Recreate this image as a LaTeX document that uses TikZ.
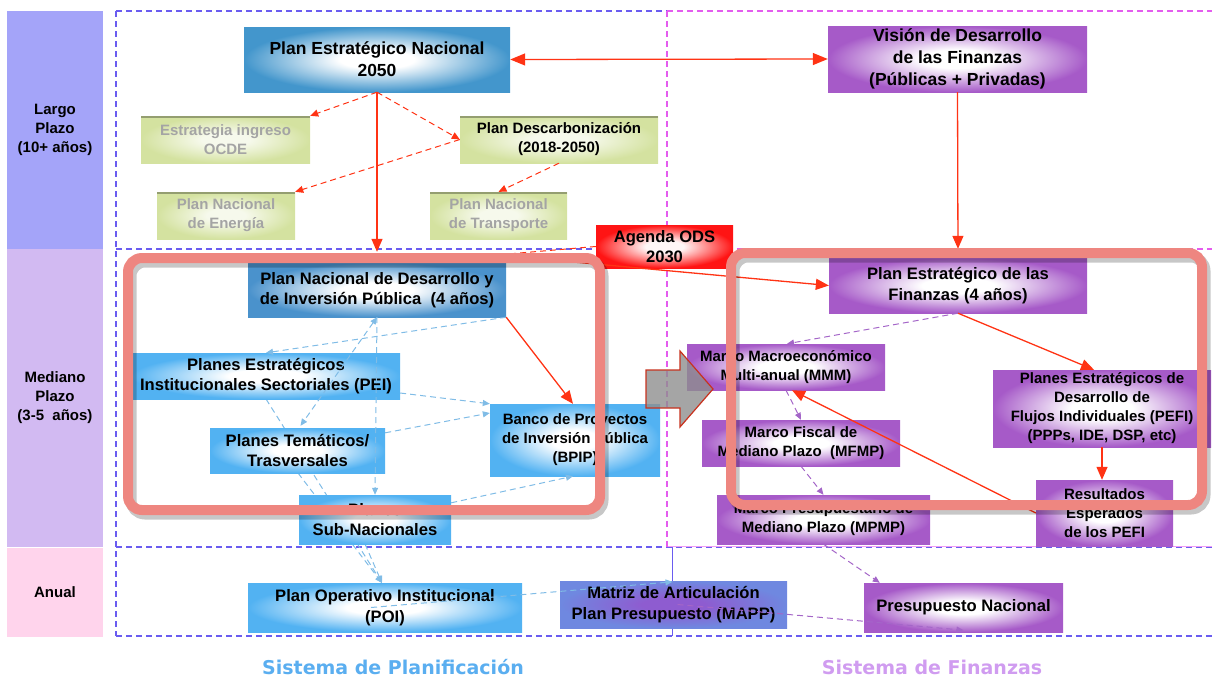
\documentclass[tikz,border=0pt]{standalone}
\usepackage{fontspec}
\setmainfont{Liberation Sans}
\newfontfamily\sysfont{DejaVu Sans}
\usetikzlibrary{arrows.meta,calc}

\definecolor{largoc}{HTML}{A4A4F9}
\definecolor{medianoc}{HTML}{D2BAF2}
\definecolor{anualc}{HTML}{FFD4EC}
\definecolor{gridblue}{HTML}{6A5CF0}
\definecolor{gridpink}{HTML}{E45CEE}
\definecolor{penblue}{HTML}{4396CC}
\definecolor{pndblue}{HTML}{4A92CC}
\definecolor{lightblue}{HTML}{52B2F2}
\definecolor{purplec}{HTML}{A65AC8}
\definecolor{greenc}{HTML}{D4E2A0}
\definecolor{greentext}{HTML}{A4A4A4}
\definecolor{odsred}{HTML}{FF1414}
\definecolor{mappin}{HTML}{8E5CD0}
\definecolor{mappout}{HTML}{6F88E0}
\definecolor{arrred}{HTML}{FF3314}
\definecolor{dashblue}{HTML}{80BCE6}
\definecolor{dashpurple}{HTML}{A466C8}
\definecolor{framered}{HTML}{EE8680}
\definecolor{blockgray}{HTML}{8E8E8E}
\definecolor{blockedge}{HTML}{C8321E}
\definecolor{sysblue}{HTML}{5AAEF0}
\definecolor{syspurple}{HTML}{D09CF0}

% soft radial fill: pale core, saturated rim
\colorlet{shin}{white}
\colorlet{shout}{black}
\pgfdeclareradialshading[shin,shout]{softrad}{\pgfpoint{0bp}{0bp}}{%
  color(0bp)=(shin); color(7bp)=(shin); color(25bp)=(shout); color(50bp)=(shout)}

\newcommand\fsA{\fontsize{17.5}{22}\selectfont}
\newcommand\fsB{\fontsize{16.6}{20.5}\selectfont}
\newcommand\fsC{\fontsize{15}{19}\selectfont}

\tikzset{
  softfill/.style 2 args={/utils/exec={\colorlet{shin}{#1}\colorlet{shout}{#2}}, shading=softrad},
  cbox/.style={inner sep=0pt, align=center, font=\fsB\bfseries, text=black},
  penbox/.style={cbox, font=\fsA\bfseries, softfill={white}{penblue}},
  pndbox/.style={cbox, softfill={white}{pndblue}},
  lbbox/.style={cbox, softfill={white}{lightblue}},
  purbox/.style={cbox, softfill={white}{purplec}},
  grbox/.style={cbox, font=\fsC\bfseries, text=greentext,
    softfill={greenc!20}{greenc},
    path picture={\draw[line width=3pt, draw=black!30!greenc]
      (path picture bounding box.north west) -- (path picture bounding box.north east);}},
  odsbox/.style={cbox, softfill={odsred!4}{odsred}},
  mappbox/.style={cbox, softfill={mappin}{mappout}},
  lvlbox/.style={inner sep=0pt, align=center, font=\fsC\bfseries, minimum width=96pt},
  gridline/.style={draw=gridblue, line width=1.1pt, dash pattern=on 6pt off 4pt},
  gridpinkline/.style={draw=gridpink, line width=1.1pt, dash pattern=on 6pt off 4pt},
  redarr/.style={draw=arrred, line width=1.3pt, -{Triangle[length=13pt,width=11pt]}},
  reddash/.style={draw=arrred, line width=1pt, dash pattern=on 6pt off 4pt,
    -{Triangle[length=8pt,width=7pt]}},
  bdash/.style={draw=dashblue, line width=1pt, dash pattern=on 6pt off 4pt,
    -{Triangle[length=7pt,width=6pt]}},
  pdash/.style={draw=dashpurple, line width=1pt, dash pattern=on 6pt off 4pt,
    -{Triangle[length=7pt,width=6pt]}},
  frameline/.style={draw=framered, line width=10pt, rounded corners=14pt},
  frameshadow/.style={draw=black, draw opacity=0.22, line width=11pt, rounded corners=14pt},
}

\begin{document}
\begin{tikzpicture}[x=1pt,y=-1pt]
\useasboundingbox (0,0) rectangle (1212,678);

% time horizon column
\node[lvlbox, fill=largoc, minimum height=238pt] (largo) at (55,130) {Largo\\Plazo\\(10+ años)};
\node[lvlbox, fill=medianoc, minimum height=298pt] (mediano) at (55,398) {Mediano\\Plazo\\(3-5\ \ años)};
\node[lvlbox, fill=anualc, minimum height=89pt] (anual) at (55,592) {Anual};

% dashed grid of the two systems
\draw[gridline] (116,11) -- (667,11);
\draw[gridpinkline] (667,11) -- (1212,11);
\draw[gridline] (116,249) -- (667,249);
\draw[gridpinkline] (667,249) -- (1212,249);
\draw[gridline] (116,547) -- (1212,547);
\draw[draw=gridpink!60, line width=0.6pt] (667,546) -- (1212,546);
\draw[gridline] (116,636) -- (1212,636);
\draw[gridline] (116,11) -- (116,636);
\draw[gridpinkline] (667,11) -- (667,547);
\draw[draw=gridblue, line width=1pt] (672,547) -- (672,636);

% planning nodes
\node[penbox, minimum width=266pt, minimum height=65pt] (PEN) at (377,59.5) {Plan Estratégico Nacional\\2050};
\node[grbox, minimum width=169pt, minimum height=47pt] (OCDE) at (225.5,139.5) {Estrategia ingreso\\OCDE};
\node[grbox, text=black, minimum width=198pt, minimum height=47pt] (DESC) at (559,139.5) {Plan Descarbonización\\(2018-2050)};
\node[grbox, minimum width=138pt, minimum height=47pt] (ENER) at (226,215.5) {Plan Nacional\\de Energía};
\node[grbox, minimum width=137pt, minimum height=47pt] (TRANS) at (498.5,215.5) {Plan Nacional\\de Transporte};

% feeders into the POI run behind the boxes
\coordinate (POItop) at (382,583);
\draw[bdash] (266,399) -- (POItop);
\draw[bdash] (298,473) -- (POItop);
\draw[bdash] (365,544) -- (POItop);

\node[pndbox, minimum width=258pt, minimum height=54pt] (PND) at (377,290) {Plan Nacional de Desarrollo y\\de Inversión Pública\ \ (4 años)};
\node[lbbox, minimum width=268pt, minimum height=46pt] (PEI) at (266,376) {Planes Estratégicos\\Institucionales Sectoriales (PEI)};
\node[lbbox, minimum width=175pt, minimum height=45pt] (TEM) at (297.5,450.5) {Planes Temáticos/\\Trasversales};
\node[lbbox, font=\fsC\bfseries, minimum width=170pt, minimum height=72pt] (BPIP) at (575,440) {Banco de Proyectos\\de Inversión Pública\\(BPIP)};
\node[lbbox, minimum width=152pt, minimum height=49pt, text depth=0pt] (SUB) at (375,519.5) {Planes\\Sub-Nacionales};
\node[lbbox, minimum width=274pt, minimum height=49pt] (POI) at (385,607.5) {Plan Operativo Institucional\\(POI)};
\node[mappbox, minimum width=227pt, minimum height=47pt] (MAPP) at (673.5,604.5) {Matriz de Articulación\\Plan Presupuesto (MAPP)};

% finance nodes
\node[purbox, font=\fsA\bfseries, minimum width=259pt, minimum height=66pt] (VIS) at (957.5,59) {Visión de Desarrollo\\de las Finanzas\\(Públicas + Privadas)};
\node[purbox, minimum width=258pt, minimum height=55pt] (PEF) at (958,285.5) {Plan Estratégico de las\\Finanzas (4 años)};
\node[purbox, font=\fsC\bfseries, minimum width=198pt, minimum height=46pt] (MMM) at (786,367) {Marco Macroeconómico\\Multi-anual (MMM)};
\node[purbox, font=\fsC\bfseries, minimum width=198pt, minimum height=46pt] (MFMP) at (801,443) {Marco Fiscal de\\Mediano Plazo\ \ (MFMP)};
\node[purbox, font=\fsC\bfseries, minimum width=213pt, minimum height=49pt] (MPMP) at (823.5,519.5) {Marco Presupuestario de\\Mediano Plazo (MPMP)};
\node[purbox, font=\fsC\bfseries, minimum width=218pt, minimum height=77pt] (PEFI) at (1102,408.5) {Planes Estratégicos de\\Desarrollo de\\Flujos Individuales (PEFI)\\(PPPs, IDE, DSP, etc)};
\node[purbox, font=\fsC\bfseries, minimum width=137pt, minimum height=66pt] (RES) at (1104.5,513) {Resultados\\Esperados\\de los PEFI};
\node[purbox, minimum width=199pt, minimum height=49pt] (PRES) at (963.5,607.5) {Presupuesto Nacional};

% long-term links
\draw[draw=arrred, line width=1.3pt, {Triangle[length=15pt,width=12pt]}-{Triangle[length=15pt,width=12pt]}] (PEN.east) -- (VIS.west);
\draw[reddash] (PEN.south) -- (OCDE.north east);
\draw[reddash] (PEN.south) -- (DESC.west);
\draw[reddash] (DESC.west) -- (ENER.north east);
\draw[reddash] (DESC.south) -- (TRANS.north);
\draw[redarr, shorten >=11pt] (PEN.south) -- (PND.north);
\draw[redarr, shorten >=9pt] (VIS.south) -- (PEF.north);

% planning links
\draw[bdash] (PND.south east) -- (PEI.north);
\draw[bdash] (PND.south) -- (SUB.north);
\draw[bdash, {Triangle[length=7pt,width=6pt]}-{Triangle[length=7pt,width=6pt]}] (PND.south) -- ($(TEM.north)+(3,-2)$);
\draw[bdash] ($(PEI.east)+(0,17)$) -- (BPIP.north west);
\draw[bdash] ($(TEM.north east)+(0,5)$) -- ($(BPIP.west)+(0,-27)$);
\draw[bdash] ($(SUB.north east)+(0,8)$) -- ($(BPIP.south)+(-2,0)$);
\draw[bdash] ($(POI.center)+(-14,0)$) -- ($(MAPP.north)+(-1,1)$);
\draw[redarr] (PND.south east) -- ($(BPIP.north)+(-2,0)$);

% finance links
\draw[pdash] (PEF.south) -- ($(MMM.north)+(1,0)$);
\draw[pdash] (MMM.south) -- (MFMP.north);
\draw[pdash] (MFMP.south) -- (MPMP.north);
\draw[pdash] (MPMP.south) -- ($(PRES.north west)+(16,0)$);
\draw[pdash] ($(MAPP.center)+(4,0)$) -- ($(PRES.south)+(0,-2)$);
\draw[redarr] (PEF.south) -- ($(PEFI.north)+(-8,0)$);
\draw[redarr] (PEFI.south) -- (PEFI.south |- RES.north);
\draw[redarr] (RES.west) -- ($(MMM.south)+(6,0)$);

% SDG agenda
\node[odsbox, minimum width=137pt, minimum height=43pt] (ODS) at (664.5,246.5) {Agenda ODS\\2030};
\draw[draw=arrred, line width=1pt, dash pattern=on 6pt off 4pt] (ODS.west) -- ($(PND.north east)+(4,-9)$);
\draw[redarr] ($(PND.north east)+(0,-7)$) -- (PEF.west);

% block arrow between the systems
\draw[fill=blockgray, fill opacity=0.8, draw=blockedge, line width=1.2pt, line join=miter]
  (646,370) -- (680,370) -- (680,351) -- (713,389) -- (680,427) -- (680,408) -- (646,408) -- cycle;

% medium-term frames
\draw[frameshadow] (131,262) rectangle (603,514);
\draw[frameshadow] (734,257) rectangle (1205,509);
\draw[frameline] (128,258) rectangle (600,510);
\draw[frameline] (731,253) rectangle (1202,505);

% system captions
\node[font=\sysfont\bfseries\fontsize{19}{22}\selectfont, text=sysblue, inner sep=0pt] (SPLAN) at (393,667) {Sistema de Planificación};
\node[font=\sysfont\bfseries\fontsize{19}{22}\selectfont, text=syspurple, inner sep=0pt] (SFIN) at (932,667) {Sistema de Finanzas};
\end{tikzpicture}
\end{document}
